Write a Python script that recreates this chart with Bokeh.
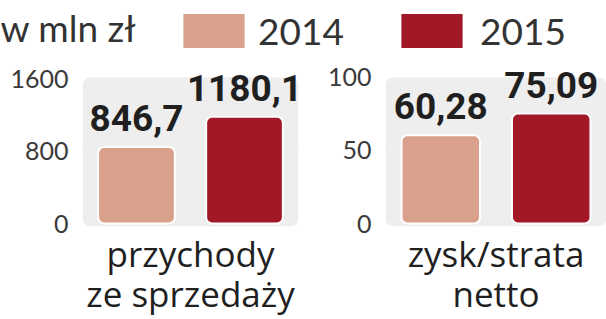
from bokeh.plotting import figure
from bokeh.models import (Range1d, FactorRange, FixedTicker, Legend, LegendItem,
                          Label, LabelSet, ColumnDataSource, BoxAnnotation)
from bokeh.layouts import column, row
from bokeh.embed import file_html
from bokeh.resources import INLINE
from bokeh.core.properties import value

# ---- data ----
years = ["2014", "2015"]
colors = ["#d9a08c", "#a31826"]
unit_label = "w mln zł"
cat_labels = ["przychody\nze sprzedaży", "zysk/strata\nnetto"]
revenue = [846.7, 1180.1]
profit = [60.28, 75.09]
revenue_ticks = [0, 800, 1600]
profit_ticks = [0, 50, 100]

LIGHT = "Lato"
REG = "Open Sans"
BOLD = "Roboto"
DARK = "#1f1f1f"


def fmt(v):
    return str(v).replace(".", ",")


def panel(vals, ticks, yr, bg_range, label, right_border):
    p = figure(width=303, height=257, x_range=FactorRange(*years, range_padding=0),
               y_range=Range1d(*yr), output_backend="svg", toolbar_location=None,
               min_border_left=82, min_border_right=right_border, min_border_top=0,
               min_border_bottom=91)
    p.outline_line_color = None
    p.add_layout(BoxAnnotation(bottom=bg_range[0], top=bg_range[1], fill_color="#eeeeee",
                               fill_alpha=1, line_color=None, border_radius=8,
                               level="underlay"))
    src = ColumnDataSource(dict(x=years, top=vals, color=colors,
                                text=[fmt(v) for v in vals]))
    p.vbar(x="x", top="top", width=0.71, fill_color="color", line_color="white",
           line_width=2, border_radius=6, source=src)
    p.add_layout(LabelSet(x="x", y="top", text="text", source=src, text_align="center",
                          text_baseline="alphabetic", y_offset=16,
                          text_font=value(BOLD), text_font_style="bold",
                          text_font_size="37px", text_color=DARK))
    p.yaxis.ticker = FixedTicker(ticks=ticks)
    p.ygrid.ticker = FixedTicker(ticks=[ticks[1]])
    p.ygrid.grid_line_color = "#bdbdbd"
    p.xgrid.visible = False
    p.yaxis.axis_line_color = None
    p.yaxis.major_tick_line_color = None
    p.yaxis.minor_tick_line_color = None
    p.yaxis.major_label_standoff = 8
    p.yaxis.major_label_text_font = LIGHT
    p.yaxis.major_label_text_font_size = "25px"
    p.yaxis.major_label_text_color = "#3a3a3a"
    p.xaxis.ticker = FixedTicker(ticks=[])
    p.xaxis.axis_line_color = None
    p.xaxis.major_tick_line_color = None
    p.xaxis.minor_tick_line_color = None
    p.xaxis.major_label_standoff = 0
    p.xaxis.axis_label = label
    p.xaxis.axis_label_text_font = REG
    p.xaxis.axis_label_text_font_size = "35px"
    p.xaxis.axis_label_text_font_style = "normal"
    p.xaxis.axis_label_text_color = DARK
    p.xaxis.axis_label_text_line_height = 0.86
    p.xaxis.axis_label_standoff = 3
    return p


left = panel(revenue, revenue_ticks, (-33, 1781), (-33, 1617), cat_labels[0], 5)
right = panel(profit, profit_ticks, (-2, 110), (-2, 100), cat_labels[1], 0)

hdr = figure(width=606, height=62, x_range=Range1d(0, 606), y_range=Range1d(0, 62),
             output_backend="svg", toolbar_location=None, min_border=0)
hdr.axis.visible = False
hdr.grid.visible = False
hdr.outline_line_color = None
hdr.add_layout(Label(x=0, y=13, x_units="screen", y_units="screen", text=unit_label,
                     text_font=LIGHT, text_font_size="37px", text_color="#333333"))
legend_pos = [(174, 9), (392, 9)]
legend_standoff = [5, 9]
for yr_, col, pos, so in zip(years, colors, legend_pos, legend_standoff):
    r = hdr.vbar(x=[-1000], top=[-1000], width=1, fill_color=col, line_color="white",
                 line_width=2)
    lg = Legend(items=[LegendItem(label=yr_, renderers=[r])], location=pos,
                orientation="horizontal", glyph_width=79, glyph_height=45,
                label_standoff=so, label_text_font=LIGHT, label_text_font_size="37px",
                label_text_color="#333333", padding=0, margin=0, spacing=0,
                border_line_color=None, background_fill_alpha=0)
    hdr.add_layout(lg)

layout = column(hdr, row(left, right, spacing=0), spacing=0)
open("out.html", "w").write(file_html(layout, INLINE))
